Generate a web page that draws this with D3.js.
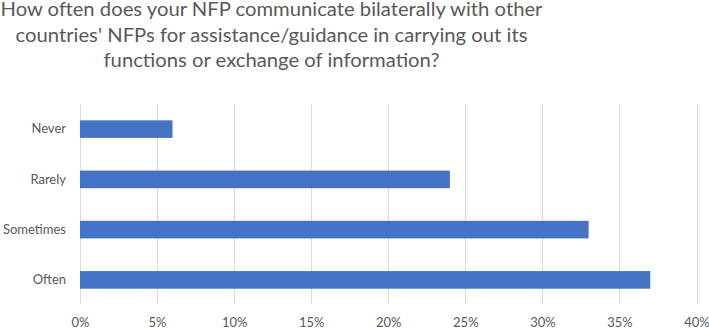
<!DOCTYPE html>
<html>
<head>
<meta charset="utf-8">
<script src="https://cdn.jsdelivr.net/npm/d3@7"></script>
<style>
	body { margin: 0; background: #fff; }
	svg { display: block; }
</style>
</head>
<body>
<div id="chart"></div>
<script>
'use strict';

// data
const titleLines = [
	"How often does your NFP communicate bilaterally with other",
	"countries' NFPs for assistance/guidance in carrying out its",
	"functions or exchange of information?"
];
const categories = ["Never", "Rarely", "Sometimes", "Often"];
const values = [0.06, 0.24, 0.33, 0.37];
const xTicks = [0, 0.05, 0.10, 0.15, 0.20, 0.25, 0.30, 0.35, 0.40];

const width = 709, height = 328;
const margin = { top: 104, right: 12.5, bottom: 23, left: 80 };
const textColor = "#595959";
const font = "Lato, 'Open Sans', sans-serif";

const svg = d3.select("#chart")
	.append("svg")
		.attr("width", width)
		.attr("height", height);

// title, centred a bit left like the original crop
const title = svg.append("g")
	.attr("font-family", font)
	.attr("font-size", 18.5)
	.attr("fill", textColor)
	.attr("text-anchor", "middle");

const tl = title.selectAll("text")
	.data(titleLines)
	.join("text")
		.attr("x", 271.5)
		.attr("y", (d, i) => 16 + i * 25.5)
		.text(d => d);

// squeeze to the narrow Calibri look
const w0 = tl.node().getComputedTextLength();
const k = 542 / w0;
tl.each(function() {
	const w = this.getComputedTextLength();
	d3.select(this)
		.attr("textLength", w * k)
		.attr("lengthAdjust", "spacingAndGlyphs");
});

const x = d3.scaleLinear()
	.domain([0, 0.4])
	.range([margin.left, width - margin.right]);

const y = d3.scaleBand()
	.domain(categories)
	.range([margin.top, height - margin.bottom])
	.paddingInner(0.65)
	.paddingOuter(0.325);

// gridlines
svg.append("g")
	.selectAll("line")
	.data(xTicks)
	.join("line")
		.attr("x1", d => Math.round(x(d)) + 0.5)
		.attr("x2", d => Math.round(x(d)) + 0.5)
		.attr("y1", margin.top)
		.attr("y2", height - margin.bottom - 1)
		.attr("stroke", "#d9d9e0")
		.attr("stroke-width", 1);

// bars
svg.append("g")
	.selectAll("rect")
	.data(categories)
	.join("rect")
		.attr("x", x(0))
		.attr("y", d => y(d))
		.attr("width", (d, i) => x(values[i]) - x(0))
		.attr("height", y.bandwidth())
		.attr("fill", "#4472C4");

// x axis labels
const xAxis = svg.append("g")
	.attr("transform", `translate(0,${height - margin.bottom})`)
	.call(d3.axisBottom(x)
		.tickValues(xTicks)
		.tickFormat(d3.format(".0%"))
		.tickSize(0)
		.tickPadding(13));
xAxis.select(".domain").remove();
xAxis.selectAll("text")
	.attr("font-family", font)
	.attr("font-size", 13)
	.attr("fill", textColor);

// category labels
const yAxis = svg.append("g")
	.attr("transform", `translate(${margin.left},0)`)
	.call(d3.axisLeft(y)
		.tickSize(0)
		.tickPadding(14));
yAxis.select(".domain").remove();
yAxis.selectAll("text")
	.attr("font-family", font)
	.attr("font-size", 13)
	.attr("fill", textColor);
</script>
</body>
</html>
